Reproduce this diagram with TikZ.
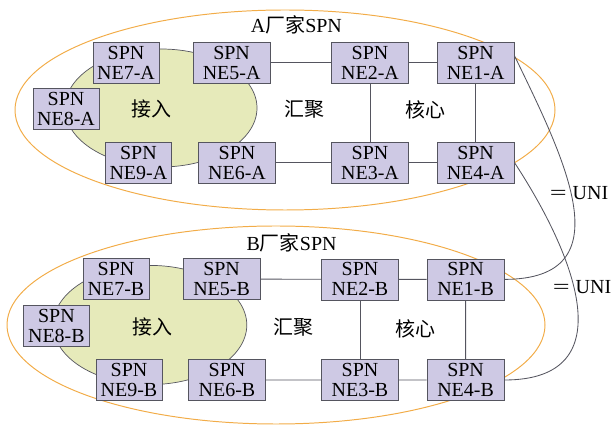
\documentclass[tikz,border=0pt]{standalone}
\usepackage{graphicx}
\usepackage{fontspec}
\setmainfont{Liberation Serif}
\newfontfamily\cjk{Noto Sans CJK SC}
\definecolor{spnfill}{RGB}{206,201,228}
\definecolor{spnline}{RGB}{85,85,95}
\definecolor{accfill}{RGB}{230,234,186}
\definecolor{vendor}{RGB}{242,172,72}
\newcommand{\wideeq}{\scalebox{1.5}[1]{=}}

\begin{document}
\begin{tikzpicture}[font=\fontsize{14.2}{14.2}\selectfont,
  spn/.style={draw=spnline, fill=spnfill, align=center, inner sep=0pt, minimum height=1.03cm},
  small/.style={spn, minimum width=1.65cm},
  big/.style={spn, minimum width=1.93cm},
  link/.style={draw=spnline, line width=0.6pt},
  area/.style={draw=vendor, line width=0.7pt},
  access/.style={draw=spnline, fill=accfill, line width=0.5pt}]
  \useasboundingbox (0,0) rectangle (15.3,10.625);

  % vendor A
  \draw[area] (7.125,7.875) ellipse (6.75cm and 2.5cm);
  \draw[access] (4.025,7.925) ellipse (2.4cm and 1.475cm);
  \node (lbla) at (7.41,10.0) {A{\cjk 厂家}SPN};
  \node (acca) at (3.775,7.9) {\cjk 接入};
  \node (agga) at (7.6,7.9) {\cjk 汇聚};
  \node (corea) at (10.625,7.875) {\cjk 核心};
  \node[small] (ne7a) at (3.15,9.06) {SPN\\NE7-A};
  \node[big] (ne5a) at (5.79,9.06) {SPN\\NE5-A};
  \node[big] (ne2a) at (9.25,9.06) {SPN\\NE2-A};
  \node[big] (ne1a) at (11.89,9.06) {SPN\\NE1-A};
  \node[small] (ne8a) at (1.65,7.9) {SPN\\NE8-A};
  \node[small] (ne9a) at (3.46,6.56) {SPN\\NE9-A};
  \node[big] (ne6a) at (5.925,6.56) {SPN\\NE6-A};
  \node[big] (ne3a) at (9.25,6.56) {SPN\\NE3-A};
  \node[big] (ne4a) at (11.89,6.56) {SPN\\NE4-A};
  \draw[link] (ne5a) -- (ne2a) -- (ne1a) -- (ne4a) -- (ne3a) -- (ne6a);
  \draw[link] (ne2a) -- (ne3a);

  % vendor B
  \draw[area] (6.9,2.5) ellipse (6.725cm and 2.475cm);
  \draw[access] (3.75,2.5) ellipse (2.42cm and 1.49cm);
  \node (lblb) at (7.29,4.55) {B{\cjk 厂家}SPN};
  \node (accb) at (3.8,2.45) {\cjk 接入};
  \node (aggb) at (7.325,2.45) {\cjk 汇聚};
  \node (coreb) at (10.39,2.4) {\cjk 核心};
  \node[small] (ne7b) at (2.9,3.65) {SPN\\NE7-B};
  \node[big] (ne5b) at (5.54,3.65) {SPN\\NE5-B};
  \node[big] (ne2b) at (9.0,3.64) {SPN\\NE2-B};
  \node[big] (ne1b) at (11.64,3.64) {SPN\\NE1-B};
  \node[small] (ne8b) at (1.41,2.475) {SPN\\NE8-B};
  \node[small] (ne9b) at (3.225,1.125) {SPN\\NE9-B};
  \node[big] (ne6b) at (5.675,1.125) {SPN\\NE6-B};
  \node[big] (ne3b) at (9.0,1.125) {SPN\\NE3-B};
  \node[big] (ne4b) at (11.64,1.125) {SPN\\NE4-B};
  \draw[link] (ne5b) -- (ne2b) -- (ne1b) -- (ne4b) -- (ne3b) -- (ne6b);
  \draw[link] (ne2b) -- (ne3b);

  % UNI links between vendors
  \draw[link] (ne1a.10) .. controls (14.125,6.625) and (15.625,3.65) .. (ne1b.east);
  \draw[link] (ne4a.east) .. controls (14.375,4.25) and (15.625,1.125) .. (ne4b.east);
  \node (uni1) at (14.475,5.8) {\wideeq\hspace{0.3em}UNI};
  \node (uni2) at (14.55,3.45) {\wideeq\hspace{0.3em}UNI};
\end{tikzpicture}
\end{document}
